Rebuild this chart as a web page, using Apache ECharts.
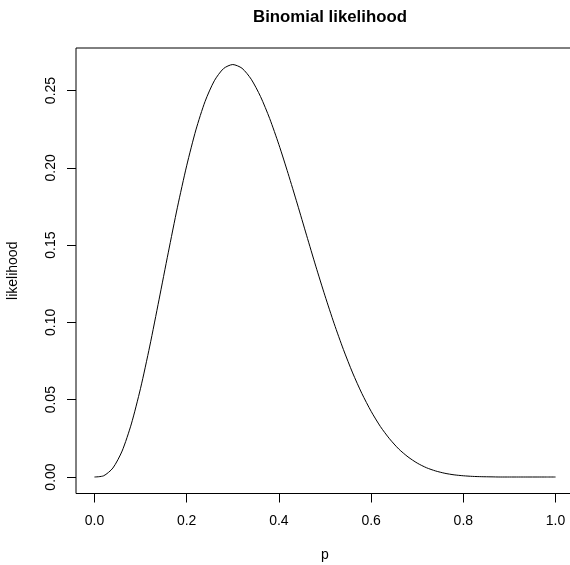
<!DOCTYPE html>
<html>
<head>
<meta charset="utf-8">
<script src="https://cdn.jsdelivr.net/npm/echarts@6/dist/echarts.min.js"></script>
<style>
html,body{margin:0;padding:0;background:#fff;}
#chart{width:570px;height:565px;}
</style>
</head>
<body>
<div id="chart"></div>
<script>
// p values and likelihood values
var pValues = [0.00,0.02,0.04,0.06,0.08,0.10,0.12,0.14,0.16,0.18,0.20,0.22,0.24,0.26,0.28,0.30,0.32,0.34,0.36,0.38,0.40,0.42,0.44,0.46,0.48,0.50,0.52,0.54,0.56,0.58,0.60,0.62,0.64,0.66,0.68,0.70,0.72,0.74,0.76,0.78,0.80,0.82,0.84,0.86,0.88,0.90,0.92,0.94,0.96,0.98,1.00];
var likelihood = [0.0000,0.0008,0.0058,0.0168,0.0343,0.0574,0.0847,0.1146,0.1450,0.1745,0.2013,0.2245,0.2430,0.2563,0.2642,0.2668,0.2644,0.2573,0.2462,0.2319,0.2150,0.1963,0.1766,0.1564,0.1364,0.1172,0.0991,0.0824,0.0673,0.0540,0.0425,0.0327,0.0247,0.0181,0.0130,0.0090,0.0060,0.0039,0.0024,0.0014,0.0008,0.0004,0.0002,0.0001,0.0000,0.0000,0.0000,0.0000,0.0000,0.0000,0.0000];
var xTicks = [0.0,0.2,0.4,0.6,0.8,1.0];
var yTicks = [0.00,0.05,0.10,0.15,0.20,0.25];

var seriesData = pValues.map(function(p,i){return [p, likelihood[i]];});
var font = 'Liberation Sans, Arial, Helvetica, sans-serif';

var chart = echarts.init(document.getElementById('chart'));
chart.setOption({
  backgroundColor: '#ffffff',
  animation: false,
  title: {
    text: 'Binomial likelihood',
    left: 325, top: 4, textAlign: 'center',
    textStyle: {fontFamily: font, fontSize: 16.8, fontWeight: 'bold', color: '#000'}
  },
  grid: {
    left: 76, top: 48, width: 498, height: 445.5,
    show: true, borderColor: '#000', borderWidth: 1, backgroundColor: 'transparent',
    containLabel: false, outerBoundsMode: 'none'
  },
  xAxis: {
    type: 'value', min: -0.04, max: 1.04,
    name: 'p', nameLocation: 'middle', nameGap: 55,
    nameTextStyle: {fontFamily: font, fontSize: 14, color: '#000'},
    axisLine: {show: false, onZero: false},
    splitLine: {show: false},
    axisTick: {show: true, inside: false, length: 9, customValues: xTicks, lineStyle: {color: '#000', width: 1}},
    axisLabel: {customValues: xTicks, margin: 21, fontFamily: font, fontSize: 14, color: '#000',
      formatter: function(v){return v.toFixed(1);}}
  },
  yAxis: {
    type: 'value', min: -0.01067, max: 0.2775,
    name: 'likelihood', nameLocation: 'middle', nameGap: 56, nameRotate: 90,
    nameTextStyle: {fontFamily: font, fontSize: 14, color: '#000'},
    axisLine: {show: false, onZero: false},
    splitLine: {show: false},
    axisTick: {show: true, inside: false, length: 9, customValues: yTicks, lineStyle: {color: '#000', width: 1}},
    axisLabel: {customValues: yTicks, margin: 18, rotate: 90, fontFamily: font, fontSize: 14, color: '#000',
      formatter: function(v){return v.toFixed(2);}}
  },
  series: [{
    type: 'line',
    data: seriesData,
    showSymbol: false,
    smooth: 0.25,
    lineStyle: {color: '#000', width: 1},
    silent: true
  }]
});
</script>
</body>
</html>
